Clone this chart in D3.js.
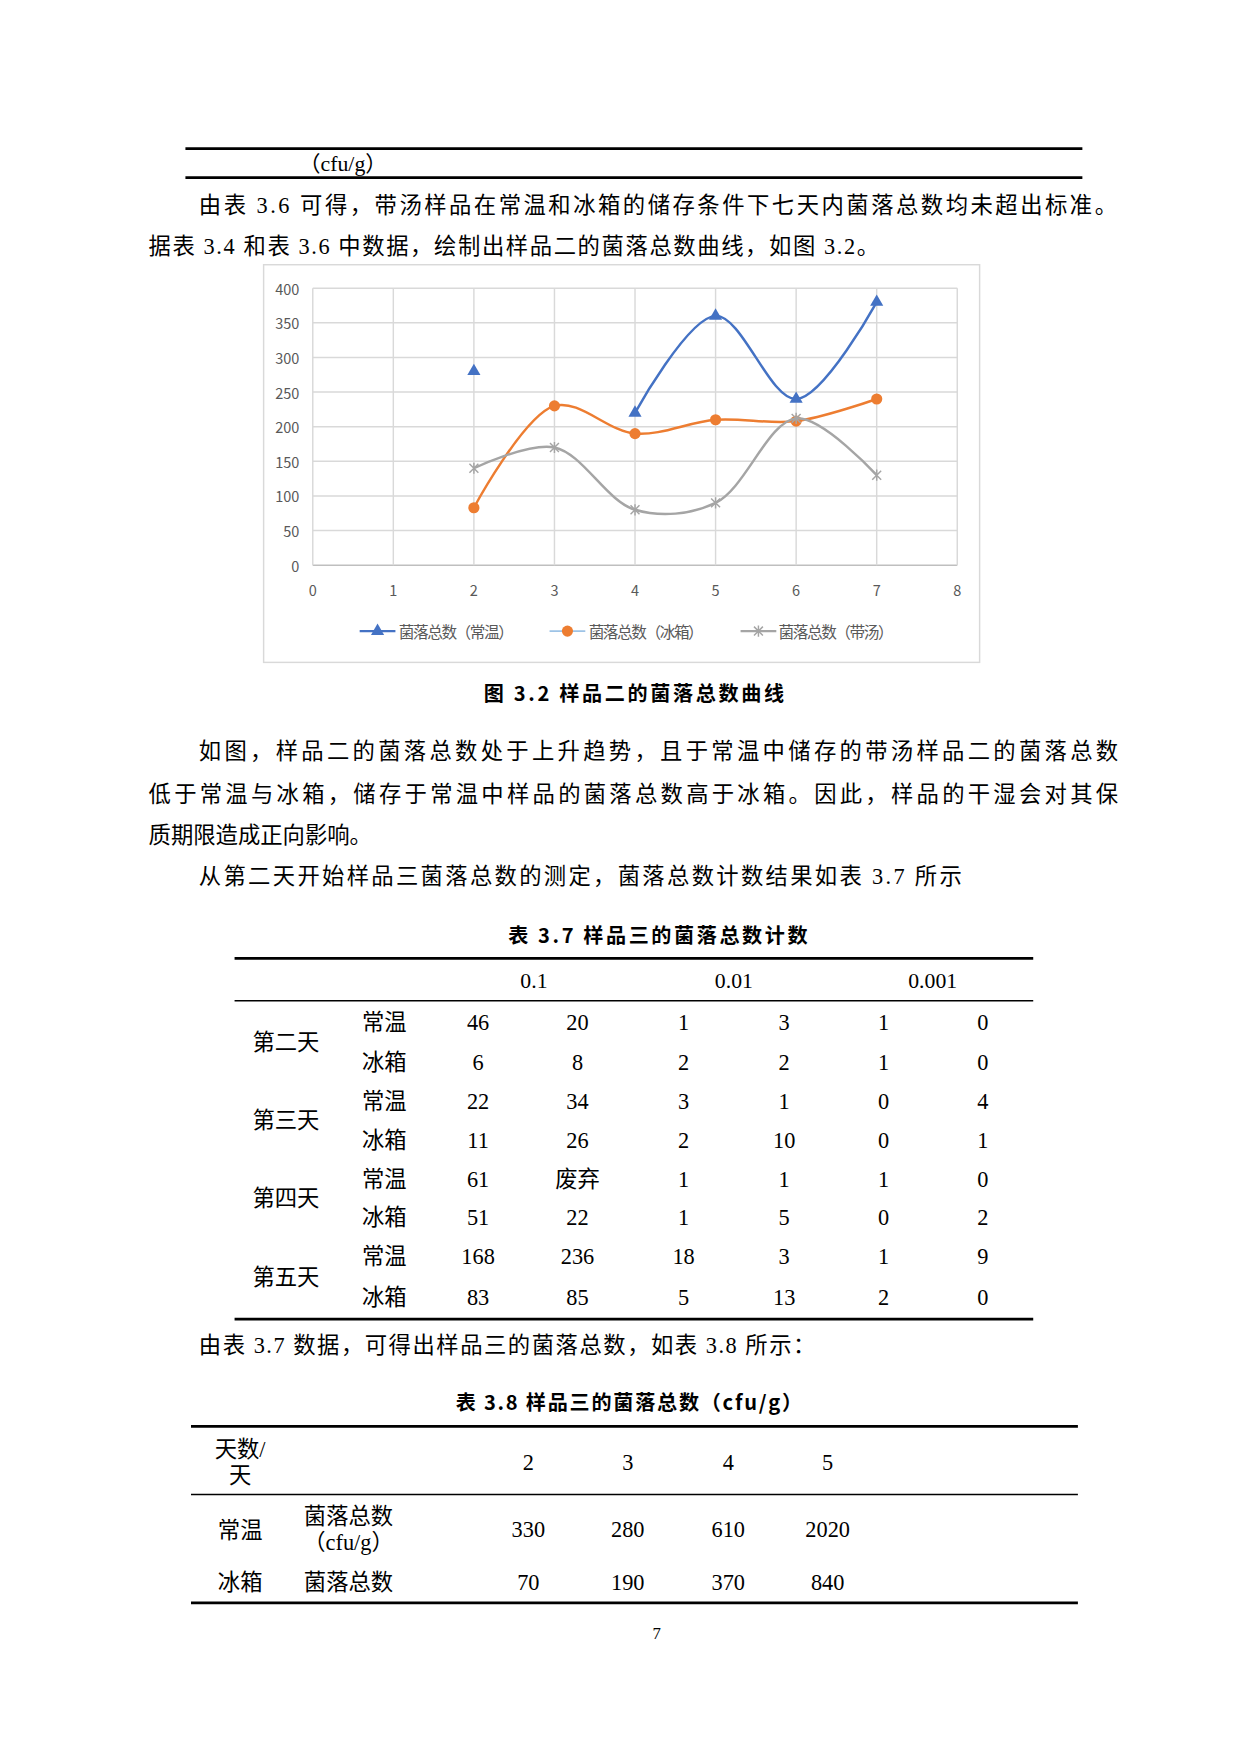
<!DOCTYPE html>
<html><head><meta charset="utf-8">
<script src="https://cdn.jsdelivr.net/npm/d3@7"></script>
<style>body{margin:0;background:#fff}text{font-family:"Liberation Serif","Noto Sans CJK SC",serif}</style>
</head><body><svg id="s" width="1240" height="1754"></svg>
<script>
const days=[2,3,4,5,6,7];
const roomTemp=[280,null,220,360,240,380];
const fridge=[83,230,190,210,208,240];
const soup=[140,170,80,90,212,130];
const seriesNames=["菌落总数（常温）","菌落总数（冰箱）","菌落总数（带汤）"];
const colors=["#4472C4","#ED7D31","#A5A5A5"];
const xTicks=[0,1,2,3,4,5,6,7,8];
const yTicks=[0,50,100,150,200,250,300,350,400];
const t37rows=["常温","冰箱","常温","冰箱","常温","冰箱","常温","冰箱"];
const t37days=["第二天","第三天","第四天","第五天"];
const t37vals=[["46","20","1","3","1","0"],["6","8","2","2","1","0"],["22","34","3","1","0","4"],["11","26","2","10","0","1"],["61","废弃","1","1","1","0"],["51","22","1","5","0","2"],["168","236","18","3","1","9"],["83","85","5","13","2","0"]];
const t38days=["2","3","4","5"];
const t38room=["330","280","610","2020"];
const t38fridge=["70","190","370","840"];

const svg=d3.select("#s");
const g=svg.append("g").attr("transform","scale(1.117)");
function T(x,y,s,opt={}){const t=g.append("text").attr("x",x).attr("y",y).attr("font-size",opt.fs||19.5).attr("text-anchor",opt.a||"start").attr("dominant-baseline","central").attr("fill",opt.c||"#000").attr("font-weight",opt.w||"normal").style("font-family",opt.f||null).text(s);
 if(opt.len)t.attr("textLength",opt.len).attr("lengthAdjust","spacing");return t;}
function L(x1,x2,y,w){g.append("line").attr("x1",x1).attr("x2",x2).attr("y1",y).attr("y2",y).attr("stroke","#000").attr("stroke-width",w);}
L(166,969,133,2.5);L(166,969,159,2.5);
T(307,147,"（cfu/g）",{a:"middle"});
T(178,184,"由表 3.6 可得，带汤样品在常温和冰箱的储存条件下七天内菌落总数均未超出标准。",{len:822,fs:20});
T(133,221,"据表 3.4 和表 3.6 中数据，绘制出样品二的菌落总数曲线，如图 3.2。",{len:654,fs:20});
// chart
g.append("rect").attr("x",236).attr("y",237).attr("width",641).attr("height",356).attr("fill","none").attr("stroke","#d9d9d9").attr("stroke-width",1.3);
const x=d3.scaleLinear().domain([0,8]).range([280,857]);
const y=d3.scaleLinear().domain([0,400]).range([506,258]);
const sans='"Noto Sans CJK SC","Noto Sans",sans-serif';
yTicks.forEach(v=>{g.append("line").attr("x1",x(0)).attr("x2",x(8)).attr("y1",y(v)).attr("y2",y(v)).attr("stroke",v===0?"#bfbfbf":"#d9d9d9").attr("stroke-width",1.3);
 T(268,y(v),v,{a:"end",fs:13,c:"#595959",f:sans});});
xTicks.forEach(v=>{g.append("line").attr("x1",x(v)).attr("x2",x(v)).attr("y1",y(0)).attr("y2",y(400)).attr("stroke","#d9d9d9").attr("stroke-width",1.3);
 T(x(v),528,v,{a:"middle",fs:13,c:"#595959",f:sans});});
const allS=[roomTemp,fridge,soup];
const line=d3.line().defined(d=>d[1]!=null).x(d=>x(d[0])).y(d=>y(d[1])).curve(d3.curveCatmullRom.alpha(0.5));
function marker(sel,i,cx,cy){
 if(i===0)sel.append("path").attr("d",d3.symbol(d3.symbolTriangle,60)()).attr("transform",`translate(${cx},${cy})`).attr("fill",colors[0]);
 else if(i===1)sel.append("circle").attr("cx",cx).attr("cy",cy).attr("r",5).attr("fill",colors[1]);
 else sel.append("path").attr("d",`M-4,-4L4,4M-4,4L4,-4M0,-5L0,5`).attr("transform",`translate(${cx},${cy})`).attr("stroke",colors[2]).attr("stroke-width",1.3).attr("fill","none");
}
allS.forEach((s,i)=>{
 const pts=days.map((d,j)=>[d,s[j]]);
 g.append("path").attr("d",line(pts)).attr("fill","none").attr("stroke",colors[i]).attr("stroke-width",2.2);
 pts.filter(p=>p[1]!=null).forEach(p=>marker(g,i,x(p[0]),y(p[1])));
});
[[322,357],[492,527],[663,697]].forEach((p,i)=>{
 g.append("line").attr("x1",p[0]).attr("x2",p[0]+32).attr("y1",565).attr("y2",565).attr("stroke",i===1?"#9dc3e6":colors[i]).attr("stroke-width",i===1?1.5:2.2);
 marker(g,i,p[0]+16,565);
 T(p[1],565,seriesNames[i],{fs:14,c:"#595959",f:sans,len:103});
});
T(433,620,"图 3.2  样品二的菌落总数曲线",{fs:18,w:"bold",f:sans,len:269});
T(178,673,"如图，样品二的菌落总数处于上升趋势，且于常温中储存的带汤样品二的菌落总数",{len:823,fs:20});
T(133,711,"低于常温与冰箱，储存于常温中样品的菌落总数高于冰箱。因此，样品的干湿会对其保",{len:868,fs:20});
T(133,748,"质期限造成正向影响。",{len:200,fs:20});
T(178,785,"从第二天开始样品三菌落总数的测定，菌落总数计数结果如表 3.7 所示",{len:683,fs:20});
T(455,837,"表 3.7  样品三的菌落总数计数",{fs:18,w:"bold",f:sans,len:268});
L(210,925,858,2.5);L(210,925,896,1.3);L(210,925,1181,2.5);
[["0.1",478],["0.01",657],["0.001",835]].forEach(h=>T(h[1],878,h[0],{a:"middle"}));
const ry=[915,951,986,1021,1056,1090,1125,1162], cx=[428,517,612,702,791,880];
t37days.forEach((d,i)=>T(256,(ry[2*i]+ry[2*i+1])/2,d,{a:"middle",fs:20}));
t37rows.forEach((r,i)=>{T(344,ry[i],r,{a:"middle",fs:20});t37vals[i].forEach((v,j)=>T(cx[j],ry[i],v,{a:"middle",fs:20}));});
T(178,1205,"由表 3.7 数据，可得出样品三的菌落总数，如表 3.8 所示：",{len:552,fs:20});
T(408,1255,"表 3.8  样品三的菌落总数（cfu/g）",{fs:18,w:"bold",f:sans,len:310});
L(171,965,1277,2.5);L(171,965,1338,1.3);L(171,965,1435,2.5);
T(215,1298,"天数/",{a:"middle",fs:20});T(215,1321,"天",{a:"middle",fs:20});
const cx8=[473,562,652,741];
t38days.forEach((d,j)=>T(cx8[j],1309,d,{a:"middle",fs:20}));
T(215,1370,"常温",{a:"middle",fs:20});T(312,1358,"菌落总数",{a:"middle",fs:20});T(312,1381,"（cfu/g）",{a:"middle",fs:20});
t38room.forEach((d,j)=>T(cx8[j],1369,d,{a:"middle",fs:20}));
T(215,1417,"冰箱",{a:"middle",fs:20});T(312,1417,"菌落总数",{a:"middle",fs:20});
t38fridge.forEach((d,j)=>T(cx8[j],1417,d,{a:"middle",fs:20}));
T(588,1462,"7",{a:"middle",fs:15});
</script></body></html>
